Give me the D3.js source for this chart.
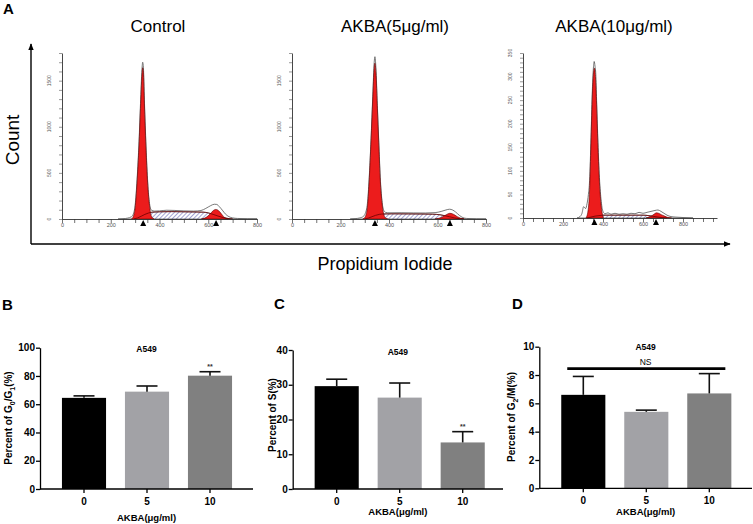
<!DOCTYPE html>
<html><head><meta charset="utf-8">
<script src="https://cdn.jsdelivr.net/npm/d3@7"></script>
<style>
html,body{margin:0;padding:0;background:#fff;}
svg{display:block;font-family:"Liberation Sans",Arial,sans-serif;}
</style></head>
<body>
<svg id="chart" width="753" height="524"></svg>
<script>
// ---------------- DATA ----------------
// Flow cytometry histograms: [PI channel, count]
const histTitles = ["Control", "AKBA(5μg/ml)", "AKBA(10μg/ml)"];

const ctrlG1 = [[285,0],[292,25],[300,120],[308,400],[316,800],[322,1200],[328,1560],[331,1640],[334,1590],[338,1250],[344,800],[351,400],[358,170],[367,30],[378,0]];
const ctrlG2 = [[572,0],[586,10],[600,35],[612,68],[622,94],[631,104],[639,97],[648,75],[658,42],[668,14],[682,0]];
const ctrlS  = [[295,0],[310,12],[325,30],[340,50],[355,65],[370,74],[400,78],[450,80],[500,78],[550,76],[580,74],[600,66],[620,50],[640,32],[660,16],[680,6],[700,0]];
const ctrlRaw = [[230,0],[250,3],[270,10],[285,25],[292,50],[300,150],[308,430],[316,840],[322,1250],[328,1620],[331,1700],[334,1640],[338,1290],[344,840],[351,430],[358,190],[367,95],[380,86],[400,88],[430,95],[460,93],[500,88],[540,86],[570,92],[590,115],[610,145],[625,160],[635,158],[645,135],[658,95],[670,55],[685,25],[700,12],[720,6],[760,3],[800,2]];
const ctrlPeaks = [333, 632];

const akba5G1 = [[292,0],[302,25],[311,130],[318,400],[326,850],[333,1300],[339,1640],[342,1690],[346,1590],[352,1200],[358,800],[364,420],[371,180],[378,55],[386,12],[395,0]];
const akba5G2 = [[590,0],[605,8],[620,22],[632,40],[642,55],[651,62],[660,58],[670,45],[682,25],[695,9],[708,0]];
const akba5S  = [[300,0],[315,10],[330,25],[345,40],[360,50],[380,55],[420,56],[480,55],[540,54],[580,52],[610,46],[630,36],[650,24],[670,12],[690,4],[710,0]];
const akba5Raw = [[240,0],[260,4],[280,12],[295,30],[302,60],[311,170],[318,430],[326,870],[333,1330],[339,1700],[342,1760],[346,1640],[352,1230],[358,830],[364,450],[371,200],[378,95],[386,72],[400,67],[450,68],[500,66],[550,65],[590,69],[615,82],[635,98],[650,106],[662,98],[675,75],[690,40],[705,15],[720,6],[760,2],[800,1]];
const akba5Peaks = [342, 651];

const akba10G1 = [[315,0],[325,15],[333,60],[340,160],[346,250],[352,305],[357,318],[362,300],[368,240],[374,160],[381,85],[390,30],[402,0]];
const akba10G2 = [[615,0],[630,2],[645,5],[658,9],[668,11],[678,10],[692,7],[708,4],[725,1],[743,0]];
const akba10S  = [[320,0],[340,2],[360,4],[380,5],[400,6],[450,6],[500,6],[550,6],[600,6],[630,5],[660,3],[690,1],[720,0]];
const akba10Raw = [[270,0],[285,3],[295,10],[303,24],[308,22],[313,20],[320,30],[327,50],[333,80],[340,170],[346,262],[352,318],[356,332],[360,322],[364,305],[368,250],[374,170],[381,95],[390,40],[400,14],[410,9],[425,11],[440,8],[460,10],[480,8],[500,9],[520,8],[540,10],[560,9],[580,12],[600,10],[620,12],[640,14],[660,16],[675,17],[690,14],[705,10],[720,6],[740,3],[760,2],[800,1],[850,0]];
const akba10Peaks = [357, 665];

const histXTicks = [0, 200, 400, 600, 800];
const histYTicksBig = [0, 500, 1000, 1500];
const histYTicksSmall = [0, 50, 100, 150, 200, 250, 300, 350];

// Bar charts
const doses = ["0", "5", "10"];
const g1Mean = [64.5, 68.9, 80.2];
const g1Err  = [1.4, 4.0, 2.8];
const sMean  = [29.6, 26.3, 13.4];
const sErr   = [2.0, 4.2, 3.1];
const g2Mean = [6.6, 5.4, 6.7];
const g2Err  = [1.3, 0.12, 1.4];
const g1Ticks = [0, 20, 40, 60, 80, 100];
const sTicks  = [0, 10, 20, 30, 40];
const g2Ticks = [0, 2, 4, 6, 8, 10];
const g1Sig = ["", "", "**"];
const sSig  = ["", "", "**"];
const nsLevel = 8.45;
const barColors = ["#000000", "#a2a2a6", "#808080"];

// ---------------- DRAW ----------------
const svg = d3.select("#chart");
const defs = svg.append("defs");
const hatch = defs.append("pattern").attr("id","hatch").attr("patternUnits","userSpaceOnUse")
  .attr("width",3).attr("height",3).attr("patternTransform","rotate(45)");
hatch.append("rect").attr("width",3).attr("height",3).attr("fill","#fff");
hatch.append("line").attr("x1",0).attr("y1",0).attr("x2",0).attr("y2",3)
  .attr("stroke","#4a4aa8").attr("stroke-width",1);
const arrow = defs.append("marker").attr("id","arrow").attr("viewBox","0 0 10 10")
  .attr("refX",9).attr("refY",5).attr("markerWidth",7).attr("markerHeight",7)
  .attr("markerUnits","userSpaceOnUse").attr("orient","auto");
arrow.append("path").attr("d","M0,1 L10,5 L0,9 Z").attr("fill","#000");

// Panel letters
const letter = (t,x,y)=>svg.append("text").attr("x",x).attr("y",y).text(t)
  .attr("font-size",15).attr("font-weight","bold");
letter("A",3,14); letter("B",2,310); letter("C",274,309); letter("D",512,309);

// Big axes of panel A
svg.append("line").attr("x1",31).attr("y1",244).attr("x2",31).attr("y2",44)
  .attr("stroke","#000").attr("stroke-width",1.4).attr("marker-end","url(#arrow)");
svg.append("line").attr("x1",31).attr("y1",244).attr("x2",730).attr("y2",244)
  .attr("stroke","#000").attr("stroke-width",1.4).attr("marker-end","url(#arrow)");
svg.append("text").attr("transform","translate(19,140) rotate(-90)").attr("text-anchor","middle")
  .attr("font-size",19).text("Count");
svg.append("text").attr("x",385).attr("y",270).attr("text-anchor","middle")
  .attr("font-size",18).text("Propidium Iodide");

const histCfg = [
  {title:histTitles[0], cx:158, g1:ctrlG1, g2:ctrlG2, s:ctrlS, raw:ctrlRaw, peaks:ctrlPeaks,
   left:62, right:257, xMax:800, bottom:219, top:53, yMax:1800, yTicks:histYTicksBig, yMinor:100},
  {title:histTitles[1], cx:395, g1:akba5G1, g2:akba5G2, s:akba5S, raw:akba5Raw, peaks:akba5Peaks,
   left:292, right:486, xMax:800, bottom:219, top:53, yMax:1800, yTicks:histYTicksBig, yMinor:100},
  {title:histTitles[2], cx:614, g1:akba10G1, g2:akba10G2, s:akba10S, raw:akba10Raw, peaks:akba10Peaks,
   left:523, right:717, xMax:970, bottom:218, top:53, yMax:350, yTicks:histYTicksSmall, yMinor:10}
];

histCfg.forEach(c=>{
  const g = svg.append("g");
  const x = d3.scaleLinear().domain([0,c.xMax]).range([c.left,c.right]);
  const y = d3.scaleLinear().domain([0,c.yMax]).range([c.bottom,c.top]);
  const area = d3.area().x(d=>x(d[0])).y0(y(0)).y1(d=>y(d[1])).curve(d3.curveMonotoneX);
  const line = d3.line().x(d=>x(d[0])).y(d=>y(d[1])).curve(d3.curveMonotoneX);

  svg.append("text").attr("x",c.cx).attr("y",32).attr("text-anchor","middle")
    .attr("font-size",17).text(c.title);

  g.append("path").datum(c.raw).attr("d",area).attr("fill","#fff").attr("stroke","#555").attr("stroke-width",0.8);
  g.append("path").datum(c.s).attr("d",area).attr("fill","url(#hatch)").attr("stroke","#333").attr("stroke-width",0.6);
  [c.g1,c.g2].forEach(pk=>{
    g.append("path").datum(pk).attr("d",area).attr("fill","#ec1c1c").attr("stroke","#5a0000").attr("stroke-width",0.6);
  });
  g.append("path").datum(c.s).attr("d",line).attr("fill","none").attr("stroke","#6a0000").attr("stroke-width",0.8);

  // axes
  const xTickVals = d3.range(0, c.xMax+1, 50);
  const xa = g.append("g").attr("transform",`translate(0,${c.bottom})`)
    .call(d3.axisBottom(x).tickValues(xTickVals).tickSize(4).tickSizeOuter(0)
      .tickFormat(d=>histXTicks.includes(d)?d:""));
  xa.select(".domain").attr("stroke","#333").attr("stroke-width",0.9);
  xa.selectAll(".tick line").attr("stroke","#333").attr("stroke-width",0.7);
  xa.selectAll(".tick text").attr("font-size",5.5).attr("fill","#555").attr("dy","0.2em")
    .attr("font-family","Liberation Sans, Arial, sans-serif");

  const yTickVals = d3.range(0, c.yMax+0.1, c.yMinor);
  const ya = g.append("g").attr("transform",`translate(${c.left},0)`)
    .call(d3.axisLeft(y).tickValues(yTickVals).tickSize(3).tickSizeOuter(0).tickFormat(""));
  ya.select(".domain").attr("stroke","#333").attr("stroke-width",0.9);
  ya.selectAll(".tick line").attr("stroke","#555").attr("stroke-width",0.6);
  c.yTicks.forEach(t=>{
    g.append("text").attr("transform",`translate(${c.left-11},${y(t)}) rotate(-90)`)
      .attr("text-anchor","middle").attr("font-size",5).attr("fill","#555").text(t);
  });

  // peak markers
  c.peaks.forEach(p=>{
    const px = x(p), py = c.bottom+1;
    g.append("path").attr("d",`M${px},${py} L${px-3},${py+6} L${px+3},${py+6} Z`).attr("fill","#000");
  });
});

// ---------------- Bar charts ----------------
const barCfg = [
  {left:40, right:253, y0:489, yTop:347.7, yMax:100, ticks:g1Ticks, mean:g1Mean, err:g1Err, sig:g1Sig,
   title:"A549", titleY:352, labelY:418, labelX:12, lab:["Percent of G","0","/G","1","(%)"], xlabY:521},
  {left:292.7, right:503, y0:489, yTop:350, yMax:40, ticks:sTicks, mean:sMean, err:sErr, sig:sSig,
   title:"A549", titleY:355, labelY:415, labelX:276, lab:["Percent of S(%)"], xlabY:515},
  {left:539.3, right:752, y0:488.3, yTop:346.7, yMax:10, ticks:g2Ticks, mean:g2Mean, err:g2Err, sig:["","",""],
   title:"A549", titleY:350, labelY:417, labelX:515, lab:["Percent of G","2","/M(%)"], xlabY:515, ns:nsLevel}
];

barCfg.forEach(c=>{
  const g = svg.append("g");
  const y = d3.scaleLinear().domain([0,c.yMax]).range([c.y0,c.yTop]);
  const x = d3.scaleBand().domain(doses).range([c.left+12.5, c.left+12.5+189]).paddingInner(0.3).paddingOuter(0.15);
  const cxs = doses.map(d=>x(d)+x.bandwidth()/2);

  g.selectAll("rect.bar").data(c.mean).join("rect").attr("class","bar")
    .attr("x",(d,i)=>x(doses[i])).attr("width",x.bandwidth())
    .attr("y",d=>y(d)).attr("height",d=>c.y0-y(d)).attr("fill",(d,i)=>barColors[i]);
  c.mean.forEach((m,i)=>{
    const cx = cxs[i], yt = y(m+c.err[i]);
    g.append("line").attr("x1",cx).attr("x2",cx).attr("y1",y(m)).attr("y2",yt).attr("stroke","#111").attr("stroke-width",1.6);
    g.append("line").attr("x1",cx-10.5).attr("x2",cx+10.5).attr("y1",yt).attr("y2",yt).attr("stroke","#111").attr("stroke-width",1.6);
    if (c.sig[i]) g.append("text").attr("x",cx).attr("y",yt-2.5).attr("text-anchor","middle")
      .attr("font-size",7).attr("font-weight","bold").attr("fill","#333").text(c.sig[i]);
  });
  const ya = g.append("g").attr("transform",`translate(${c.left},0)`)
    .call(d3.axisLeft(y).tickValues(c.ticks).tickSize(4).tickSizeOuter(0));
  ya.select(".domain").attr("stroke","#000").attr("stroke-width",1.3);
  ya.selectAll(".tick line").attr("stroke","#000").attr("stroke-width",1.3);
  ya.selectAll(".tick text").attr("font-size",10).attr("font-weight","bold").attr("fill","#000")
    .attr("font-family","Liberation Sans, Arial, sans-serif").attr("x",-5);
  g.append("line").attr("x1",c.left).attr("x2",c.right).attr("y1",c.y0).attr("y2",c.y0)
    .attr("stroke","#000").attr("stroke-width",1.3);
  const xa = g.append("g").attr("transform",`translate(0,${c.y0})`)
    .call(d3.axisBottom(x).tickSize(4).tickSizeOuter(0));
  xa.select(".domain").remove();
  xa.selectAll(".tick line").attr("stroke","#000").attr("stroke-width",1.3);
  xa.selectAll(".tick text").attr("font-size",10).attr("font-weight","bold").attr("fill","#000")
    .attr("font-family","Liberation Sans, Arial, sans-serif").attr("dy","0.9em");
  g.append("text").attr("x",(c.left+c.right)/2).attr("y",c.titleY).attr("text-anchor","middle")
    .attr("font-size",8.5).attr("font-weight","bold").text(c.title);
  g.append("text").attr("x",(c.left+c.right)/2).attr("y",c.xlabY).attr("text-anchor","middle")
    .attr("font-size",9.5).attr("font-weight","bold").text("AKBA(μg/ml)");
  const yl = g.append("text").attr("transform",`translate(${c.labelX},${c.labelY}) rotate(-90)`)
    .attr("text-anchor","middle").attr("font-size",10).attr("font-weight","bold");
  c.lab.forEach((t,i)=>{
    const sub = (c.lab.length>1 && i%2===1);
    yl.append("tspan").text(t).attr("font-size",sub?7:10).attr("baseline-shift",sub?"-3":null);
  });
  if (c.ns!==undefined) {
    g.append("line").attr("x1",x(doses[0])+6).attr("x2",x(doses[2])+x.bandwidth()-6)
      .attr("y1",y(c.ns)).attr("y2",y(c.ns)).attr("stroke","#000").attr("stroke-width",2.6);
    g.append("text").attr("x",(c.left+c.right)/2).attr("y",y(c.ns)-4).attr("text-anchor","middle")
      .attr("font-size",8.5).text("NS");
  }
});
</script>
</body></html>
